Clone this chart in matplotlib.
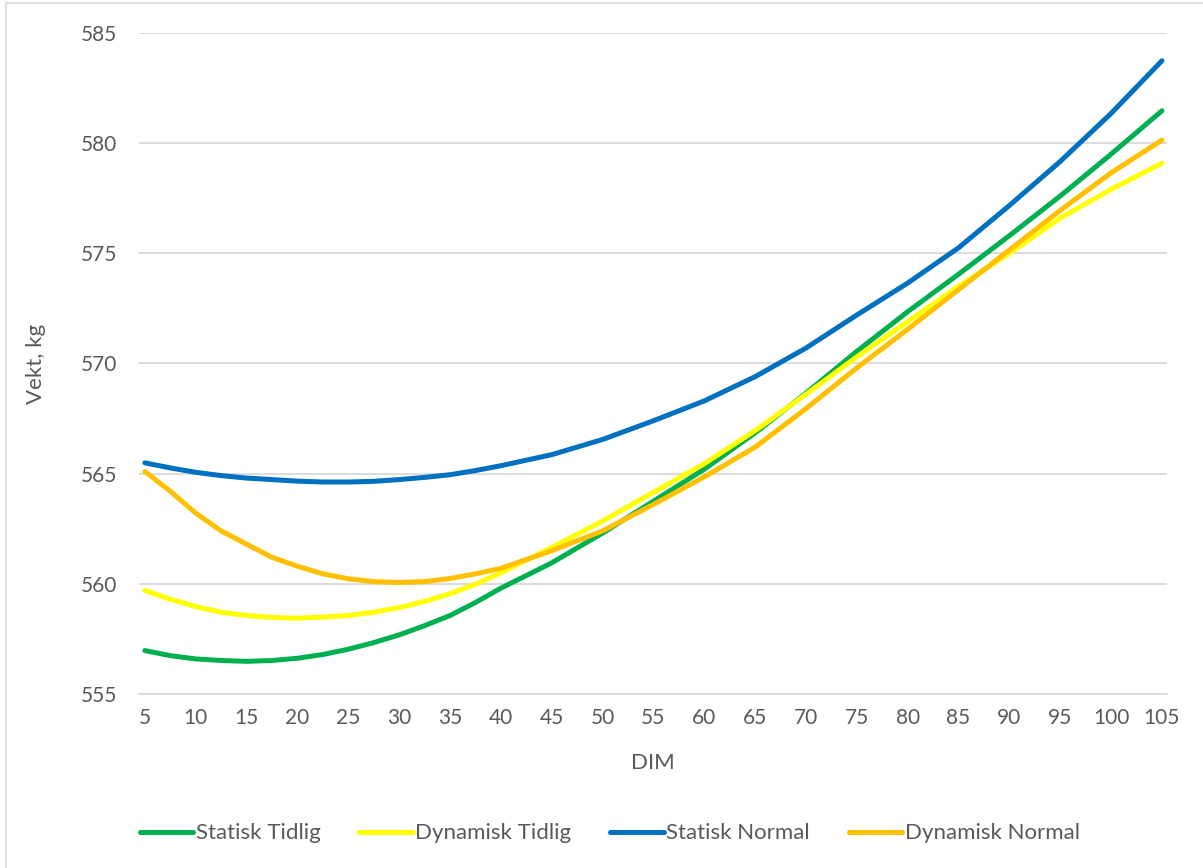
import matplotlib.pyplot as plt
from matplotlib.patches import Rectangle

# Vekt gjennom laktasjonen, fire modeller (tettere punkter i starten der kurvene bøyer)
dim = [5, 7.5, 10, 12.5, 15, 17.5, 20, 22.5, 25, 27.5, 30, 32.5, 35, 37.5, 40,
       45, 50, 55, 60, 65, 70, 75, 80, 85, 90, 95, 100, 105]

statisk_tidlig = [556.97, 556.74, 556.59, 556.52, 556.48, 556.52, 556.62, 556.79, 557.03, 557.33,
                  557.68, 558.10, 558.56, 559.15, 559.80,
                  560.95, 562.30, 563.75, 565.20, 566.85, 568.65, 570.55, 572.35, 574.05,
                  575.80, 577.60, 579.50, 581.47]
dynamisk_tidlig = [559.70, 559.30, 558.97, 558.71, 558.56, 558.47, 558.44, 558.49, 558.56, 558.71,
                   558.92, 559.20, 559.55, 559.98, 560.50,
                   561.65, 562.85, 564.15, 565.45, 566.95, 568.60, 570.30, 571.90, 573.50,
                   575.00, 576.60, 577.90, 579.09]
statisk_normal = [565.49, 565.26, 565.06, 564.91, 564.80, 564.73, 564.66, 564.62, 564.62, 564.65,
                  564.73, 564.83, 564.95, 565.14, 565.36,
                  565.86, 566.55, 567.40, 568.30, 569.40, 570.70, 572.20, 573.65, 575.25,
                  577.17, 579.17, 581.35, 583.74]
dynamisk_normal = [565.10, 564.20, 563.21, 562.40, 561.80, 561.20, 560.80, 560.45, 560.23, 560.10,
                   560.06, 560.10, 560.24, 560.45, 560.70,
                   561.50, 562.40, 563.60, 564.85, 566.20, 567.95, 569.80, 571.55, 573.35,
                   575.15, 576.95, 578.65, 580.14]

serier = [
    ("Statisk Tidlig", statisk_tidlig, "#00B050"),
    ("Dynamisk Tidlig", dynamisk_tidlig, "#FFFF00"),
    ("Statisk Normal", statisk_normal, "#0070C0"),
    ("Dynamisk Normal", dynamisk_normal, "#FFC000"),
]

plt.rcParams['font.family'] = ['Lato', 'DejaVu Sans']
grå = "#595959"

fig = plt.figure(figsize=(12.03, 8.68), dpi=100)
ax = fig.add_axes([0.1155, 0.2005, 0.8546, 0.7615])

for navn, verdier, farge in serier:
    ax.plot(dim, verdier, color=farge, linewidth=3.6, label=navn,
            solid_capstyle="round", solid_joinstyle="round")

ax.set_xlim(4.42, 105.5)
ax.set_ylim(555, 585)
ax.set_xticks(range(5, 106, 5))
ax.set_yticks(range(555, 586, 5))
ax.grid(axis="y", color="#D9D9D9", linewidth=1.3)
ax.set_axisbelow(True)
for side in ["top", "right", "left"]:
    ax.spines[side].set_visible(False)
ax.spines["bottom"].set_color("#D9D9D9")
ax.spines["bottom"].set_linewidth(1.3)

ax.tick_params(axis="both", length=0, labelsize=15, labelcolor=grå)
ax.tick_params(axis="y", pad=16)
ax.tick_params(axis="x", pad=10)

ax.set_xlabel("DIM", fontsize=16, color=grå, labelpad=18)
ax.set_ylabel("Vekt, kg", fontsize=16, color=grå, labelpad=25)

fig.legend(loc="center", bbox_to_anchor=(0.507, 0.04), ncol=4, frameon=False,
           fontsize=16, labelcolor=grå, handlelength=2.4, handletextpad=0.12,
           columnspacing=1.75)

# ramme rundt diagramområdet
fig.patches.append(Rectangle((6 / 1203, -0.05), 1.2, 1.05 - 3 / 868,
                             transform=fig.transFigure, fill=False,
                             edgecolor="#D9D9D9", linewidth=1.2))

fig.savefig("out.png", dpi=100, facecolor="white")
